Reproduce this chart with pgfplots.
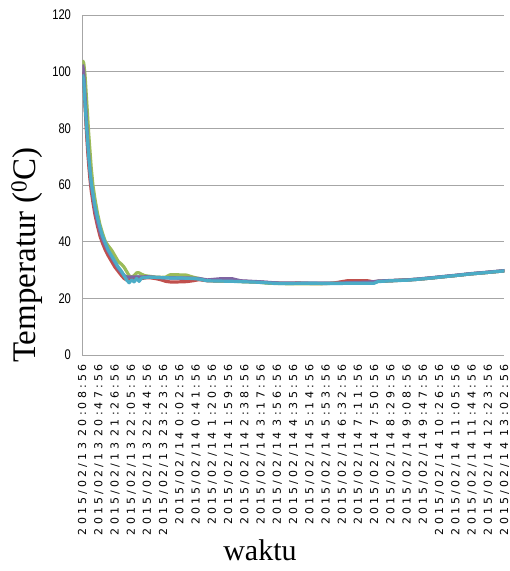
\documentclass[border=0pt]{standalone}
\usepackage{fontspec}
\setmainfont{Liberation Serif}
\newfontfamily\xtickfont[LetterSpace=29]{DejaVu Sans}
\newfontfamily\ytickfont[FakeStretch=0.8]{Liberation Sans}
\usepackage{pgfplots}
\pgfplotsset{compat=1.18}
\usepackage{pgfplotstable}
\definecolor{sB}{HTML}{4F81BD}
\definecolor{sR}{HTML}{C0504D}
\definecolor{sG}{HTML}{9BBB59}
\definecolor{sP}{HTML}{8064A2}
\definecolor{sC}{HTML}{4BACC6}
\definecolor{gridc}{HTML}{A6A6A6}
\pgfplotstableread{
t    B     R     G     P     C
0    100   100   104   102.5 99
3    98    97    103   100   97
6    90    88    99    92    89
9    82    80    92    84    82
12   75    73    85    77    76
15   69    67    78    70    70
18   64    62    72    65    65
21   60    58    66    60    61
25   56    54    60    56    57
30   51    49.5  55    51    52.5
36   47    45.5  50    47    48.5
42   43.5  42    46    43.5  45
48   41    39.5  43    41    42
55   38.5  37    40    38.5  39.5
62   36.5  35    38.5  36.5  37
70   34.5  33    37    34.5  35
78   32.5  31    35    32.5  33
86   30.5  29.5  33    30.5  31
94   29    28    32    29    29.5
100  28    27    31    28    28
106  27.5  26.5  29.5  27.5  26.5
112  27.5  26.5  28    27.5  25.5
118  27.5  27    27.5  27.5  26.5
124  27.5  26.8  28    27.5  25.8
130  27.5  27    29    27.5  27
136  27.5  27.2  29    27.5  26
142  27.5  27    28.5  27.5  27.2
150  27.5  27.2  28    27.6  27.3
160  27.5  27.3  27.8  27.6  27.5
175  27.4  27    27.5  27.4  27.4
190  27.3  26.5  27.4  27.3  27.3
200  27.3  26    27.5  27.3  27.3
210  27.2  25.8  28.3  27.3  27.2
230  27.2  25.8  28.3  27.2  27.2
250  27.1  25.9  28.2  27.2  27.1
265  27    26.2  27.5  27.1  27
280  26.8  26.6  27    27    26.8
300  26.3  26.2  26.3  26.5  26.2
330  26.2  26.1  26.1  26.9  26.1
360  26.1  26.1  26.1  26.9  26.0
380  26    26    25.9  26.2  25.9
420  25.8  25.8  25.7  25.9  25.7
450  25.5  25.5  25.3  25.6  25.4
480  25.3  25.3  25.2  25.3  25.2
520  25.3  25.4  25.1  25.3  25.3
560  25.3  25.2  25.1  25.3  25.3
600  25.3  25.3  25.3  25.3  25.2
636  25.4  26.2  25.4  25.5  25.3
660  25.4  26.2  25.4  25.6  25.3
685  25.5  26.2  25.5  25.7  25.3
700  25.6  25.8  25.6  25.9  25.3
710  26    26    26    26.1  25.9
740  26.2  26.2  26.2  26.3  26.2
780  26.5  26.5  26.5  26.5  26.4
804  26.7  26.7  26.7  26.8  26.7
840  27.2  27.2  27.2  27.3  27.2
866  27.6  27.6  27.6  27.7  27.6
900  28.1  28.1  28.1  28.2  28.1
931  28.6  28.6  28.6  28.7  28.6
970  29.1  29.1  29.1  29.2  29.1
1014 29.7  29.7  29.7  29.8  29.7
}\datatable
\begin{document}
\begin{tikzpicture}
\useasboundingbox (-82.5pt,-216pt) rectangle (427.5pt,355pt);
\begin{axis}[
  at={(0,0)}, anchor=south west,
  scale only axis, width=422pt, height=340pt,
  xmin=0, xmax=1014, ymin=0, ymax=120,
  ytick={0,20,...,120},
  xtick={0,39,78,117,156,195,234,273,312,351,390,429,468,507,546,585,624,663,702,741,780,819,858,897,936,975,1014},
  xticklabels={
    2015/02/13 20:08:56, 2015/02/13 20:47:56, 2015/02/13 21:26:56,
    2015/02/13 22:05:56, 2015/02/13 22:44:56, 2015/02/13 23:23:56,
    2015/02/14 0:02:56, 2015/02/14 0:41:56, 2015/02/14 1:20:56,
    2015/02/14 1:59:56, 2015/02/14 2:38:56, 2015/02/14 3:17:56,
    2015/02/14 3:56:56, 2015/02/14 4:35:56, 2015/02/14 5:14:56,
    2015/02/14 5:53:56, 2015/02/14 6:32:56, 2015/02/14 7:11:56,
    2015/02/14 7:50:56, 2015/02/14 8:29:56, 2015/02/14 9:08:56,
    2015/02/14 9:47:56, 2015/02/14 10:26:56, 2015/02/14 11:05:56,
    2015/02/14 11:44:56, 2015/02/14 12:23:56, 2015/02/14 13:02:56},
  xticklabel style={yshift=-6pt, rotate=90, anchor=east,
    font=\xtickfont\fontsize{11}{11}\selectfont},
  yticklabel style={xshift=-8pt, font=\ytickfont\fontsize{14}{14}\selectfont},
  /pgf/number format/assume math mode=true,
  major tick length=0pt,
  ymajorgrids,
  grid style={gridc, line width=0.9pt},
  axis x line*=bottom, axis y line*=left,
  axis line style={gridc, line width=0.9pt, -},
  ylabel={Temperatur (\textsuperscript{0}C)},
  ylabel style={at={(axis description cs:-0.1315,0.294)}, anchor=center,
    font=\fontsize{33}{33}\selectfont},
  xlabel={waktu},
  xlabel style={at={(axis description cs:0.4206,-0.605)}, anchor=base,
    inner sep=0pt, text depth=0pt, font=\fontsize{30}{30}\selectfont},
  every axis plot/.append style={line width=3.2pt, line join=round, no markers},
]
\addplot[sB] table[x=t,y=B]{\datatable};
\addplot[sR] table[x=t,y=R]{\datatable};
\addplot[sG] table[x=t,y=G]{\datatable};
\addplot[sP] table[x=t,y=P]{\datatable};
\addplot[sC] table[x=t,y=C]{\datatable};
\end{axis}
\end{tikzpicture}
\end{document}
